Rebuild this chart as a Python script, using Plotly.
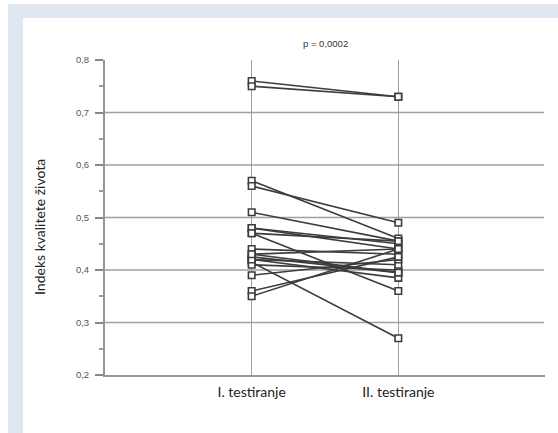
import plotly.graph_objects as go

# ---- data ----
categories = ["I. testiranje", "II. testiranje"]
first_test = [0.76, 0.75, 0.57, 0.56, 0.51, 0.48, 0.48, 0.47, 0.47, 0.44,
              0.43, 0.425, 0.42, 0.415, 0.41, 0.42, 0.39, 0.36, 0.35, 0.43]
second_test = [0.73, 0.73, 0.46, 0.49, 0.455, 0.45, 0.44, 0.36, 0.455, 0.43,
               0.44, 0.395, 0.385, 0.27, 0.40, 0.41, 0.42, 0.425, 0.44, 0.395]
y_ticks = [0.2, 0.3, 0.4, 0.5, 0.6, 0.7, 0.8]
grid_values = [0.3, 0.4, 0.5, 0.6, 0.7]
title_text = "p = 0,0002"
y_title = "Indeks kvalitete života"

x_pos = [1, 2]

fig = go.Figure()
for a, b in zip(first_test, second_test):
    fig.add_trace(go.Scatter(
        x=x_pos, y=[a, b], mode="lines+markers",
        line=dict(color="#3c3c3c", width=1.6),
        marker=dict(symbol="square", size=6.5, color="white",
                    line=dict(color="#3c3c3c", width=1.6)),
        showlegend=False, hoverinfo="skip", cliponaxis=False,
    ))

L, R, T, B = 105, 13, 60, 58
W, H = 558, 433
pw, ph = W - L - R, H - T - B

def px(xp):
    return (xp - L) / pw

def py(yp):
    return (H - B - yp) / ph

shapes = [
    dict(type="rect", xref="paper", yref="paper", x0=px(8), x1=px(570),
         y0=py(450), y1=py(4), fillcolor="#dfe6f2", line_width=0, layer="below"),
    dict(type="rect", xref="paper", yref="paper", x0=px(23), x1=px(570),
         y0=py(450), y1=py(18), fillcolor="white", line_width=0, layer="below"),
]
for g in grid_values:
    shapes.append(dict(type="line", xref="paper", yref="y", x0=0, x1=px(544),
                       y0=g, y1=g, line=dict(color="#a0a0a0", width=1.4),
                       layer="below"))

fig.update_layout(
    width=W, height=H,
    margin=dict(l=L, r=R, t=T, b=B),
    paper_bgcolor="white", plot_bgcolor="rgba(0,0,0,0)",
    separators=",.",
    shapes=shapes,
    font=dict(family="Lato, Liberation Sans, sans-serif"),
    annotations=[
        dict(text=title_text, xref="x", yref="paper", x=1.5, y=py(44),
             xanchor="center", yanchor="middle",
             showarrow=False, font=dict(size=9.5, color="#333",
                                        family="Liberation Sans, Arial")),
        dict(text=y_title, xref="paper", yref="paper", x=px(40), y=0.47,
             xanchor="center", yanchor="middle",
             textangle=-90, showarrow=False,
             font=dict(size=14, color="#222")),
    ],
)
fig.update_xaxes(
    range=[0, 3], tickvals=x_pos, ticktext=categories,
    showgrid=True, gridcolor="#a0a0a0", gridwidth=1.4,
    showline=True, linecolor="#959595", linewidth=2,
    ticks="", tickfont=dict(size=14, color="#222"),
    ticklabelstandoff=3,
    zeroline=False, fixedrange=True,
)
fig.update_yaxes(
    range=[0.2, 0.8], tickvals=y_ticks, tickformat=".1f",
    showgrid=False, zeroline=False,
    showline=True, linecolor="#959595", linewidth=2,
    ticks="outside", ticklen=8, tickwidth=2, tickcolor="#888",
    ticklabelstandoff=4,
    tickfont=dict(size=9.5, color="#555", family="Liberation Sans, Arial"),
    minor=dict(dtick=0.05, ticks="outside", ticklen=4, tickwidth=1.5,
               tickcolor="#999", showgrid=False),
)

fig.write_html(
    "out.html",
    config={"displayModeBar": False},
    post_script="document.body.style.margin='0';document.body.style.padding='0';",
)
